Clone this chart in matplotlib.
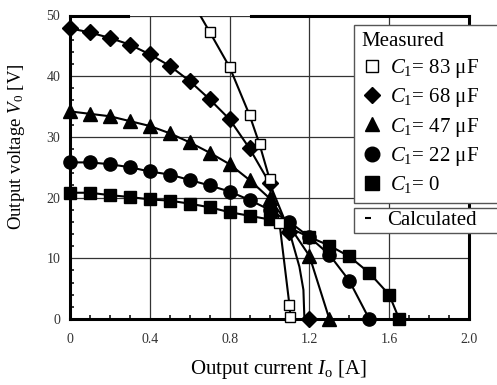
import numpy as np
import matplotlib as mpl
import matplotlib.pyplot as plt
from matplotlib.lines import Line2D

#Data
x_c0 = [0, 0.1, 0.2, 0.3, 0.4, 0.5, 0.6, 0.7, 0.8, 0.9, 1.0, 1.1, 1.2, 1.3, 1.4, 1.5, 1.6, 1.65]
y_c0 = [20.8, 20.8, 20.4, 20.1, 19.7, 19.5, 19.0, 18.4, 17.6, 17.0, 16.4, 15.0, 13.5, 12.1, 10.3, 7.6, 4.0, 0]

x_c22 = [0, 0.1, 0.2, 0.3, 0.4, 0.5, 0.6, 0.7, 0.8, 0.9, 1.0, 1.1, 1.2, 1.3, 1.4, 1.5]
y_c22 = [25.8, 25.8, 25.5, 25.0, 24.3, 23.8, 22.9, 22.0, 21.0, 19.6, 18.0, 16.0, 13.5, 10.6, 6.3, 0]

x_c47 = [0, 0.1, 0.2, 0.3, 0.4, 0.5, 0.6, 0.7, 0.8, 0.9, 1.0, 1.1, 1.2, 1.3]
y_c47 = [34.2, 33.8, 33.4, 32.6, 31.8, 30.6, 29.1, 27.4, 25.5, 22.9, 19.9, 15.3, 10.4, 0]

x_c68 = [0, 0.1, 0.2, 0.3, 0.4, 0.5, 0.6, 0.7, 0.8, 0.9, 1.0, 1.1, 1.2]
y_c68 = [47.9, 47.2, 46.3, 45.2, 43.6, 41.7, 39.2, 36.2, 32.9, 28.1, 22.4, 14.4, 0]
# calculated curve drops off before the last measured point
x_c68_tail = [1.1, 1.15, 1.17, 1.175]
y_c68_tail = [14.4, 8.6, 4.8, 0]

x_c83 = [0.6, 0.7, 0.8, 0.9, 0.95, 1.0, 1.05, 1.1, 1.105]
y_c83 = [53.0, 47.3, 41.5, 33.6, 28.8, 23.1, 15.8, 2.3, 0.3]

labels = ["$C_1$= 83 μF", "$C_1$= 68 μF", "$C_1$= 47 μF", "$C_1$= 22 μF", "$C_1$= 0"]
xticks = [0, 0.4, 0.8, 1.2, 1.6, 2.0]
xticklabels = ["0", "0.4", "0.8", "1.2", "1.6", "2.0"]
yticks = [0, 10, 20, 30, 40, 50]

#Customization
mpl.rcParams['font.family'] = ['Liberation Serif', 'DejaVu Serif']
mpl.rcParams['mathtext.fontset'] = 'custom'
mpl.rcParams['mathtext.rm'] = 'Liberation Serif'
mpl.rcParams['mathtext.it'] = 'Liberation Serif:italic'

W, H = 497, 385
fig = plt.figure(figsize=(W/100, H/100), dpi=100)
ax = fig.add_axes([70/W, 1-319/H, 399/W, 303.5/H])
ax.set_xlim(0, 2.0)
ax.set_ylim(0, 50)

#Grid and frame
ax.set_xticks(xticks)
ax.set_xticklabels(xticklabels)
ax.set_yticks(yticks)
ax.set_xticks(np.arange(0, 2.0, 0.1), minor=True)
ax.set_yticks(np.arange(0, 50, 2), minor=True)
ax.grid(True, which='major', color='#333333', lw=0.9, zorder=1)
ax.tick_params(which='major', length=0, labelsize=10, labelcolor='#333333')
ax.tick_params(axis='x', which='major', pad=10)
ax.tick_params(axis='y', which='major', pad=7)
ax.tick_params(which='minor', direction='in', length=3, width=1.1, color='black')
for s in ['left', 'bottom', 'right']:
    ax.spines[s].set_linewidth(2.2)
ax.spines['top'].set_visible(False)
ax.axhline(50, xmin=0, xmax=(128-70)/399, color='black', lw=2.2, clip_on=False, zorder=3)
ax.axhline(50, xmin=(251-70)/399, xmax=1, color='black', lw=2.2, clip_on=False, zorder=3)

#Series
def Series(x, y, marker, ms, face, lx=None, ly=None, z=4):
    x = np.array(x)
    y = np.array(y)
    if lx is None:
        lx, ly = x, y
    ax.plot(lx, ly, color='black', lw=1.5, zorder=z)
    keep = y <= 50
    ax.plot(x[keep], y[keep], ls='none', marker=marker, ms=ms, mfc=face, mec='black',
            mew=1, clip_on=False, zorder=z)

Series(x_c0, y_c0, 's', 9, 'black', z=4)
Series(x_c22, y_c22, 'o', 9.5, 'black', z=4.1)
Series(x_c47, y_c47, '^', 9.5, 'black', z=4.2)
Series(x_c68, y_c68, 'D', 8, 'black', x_c68[:-1] + x_c68_tail[1:], y_c68[:-1] + y_c68_tail[1:], z=4.3)
Series(x_c83, y_c83, 's', 6.5, 'white', z=4.4)

#Labels
ax.set_xlabel("Output current $I_\\mathrm{o}$ [A]", fontsize=15)
ax.xaxis.set_label_coords((278.5-70)/399, (319-358)/303.5)
ax.set_ylabel("Output voltage $V_\\mathrm{0}$ [V]", fontsize=13.5)
ax.yaxis.set_label_coords((27-70)/399, (319-146.5)/303.5)

#Legends
handles = [
    Line2D([], [], ls='none', marker='s', ms=9, mfc='white', mec='black', mew=1),
    Line2D([], [], ls='none', marker='D', ms=8, mfc='black', mec='black'),
    Line2D([], [], ls='none', marker='^', ms=10.5, mfc='black', mec='black'),
    Line2D([], [], ls='none', marker='o', ms=10.5, mfc='black', mec='black'),
    Line2D([], [], ls='none', marker='s', ms=9.5, mfc='black', mec='black'),
]
leg1 = ax.legend(handles, labels, title="Measured", fontsize=15, title_fontsize=15,
                 loc='upper left', mode='expand', alignment='left',
                 bbox_to_anchor=(354/W, 1-201.7/H, 160/W, 177/H), bbox_transform=fig.transFigure,
                 borderaxespad=0, borderpad=0.35, labelspacing=0.3, handlelength=1.0,
                 handletextpad=0.4, fancybox=False, framealpha=1, edgecolor='#555555')
leg1.get_frame().set_linewidth(1)
leg1.set_zorder(10)
ax.add_artist(leg1)

calc = [Line2D([], [], ls='none', marker='_', ms=5, mew=1.5, color='black')]
leg2 = ax.legend(calc, ["Calculated"], fontsize=15, loc='upper left', mode='expand',
                 bbox_to_anchor=(354/W, 1-233/H, 160/W, 25/H), bbox_transform=fig.transFigure,
                 borderaxespad=0, borderpad=0.12, handlelength=1.1, handletextpad=0.35,
                 fancybox=False, framealpha=1, edgecolor='#555555')
leg2.get_frame().set_linewidth(1)
leg2.set_zorder(10)

plt.savefig('out.png', dpi=100)
